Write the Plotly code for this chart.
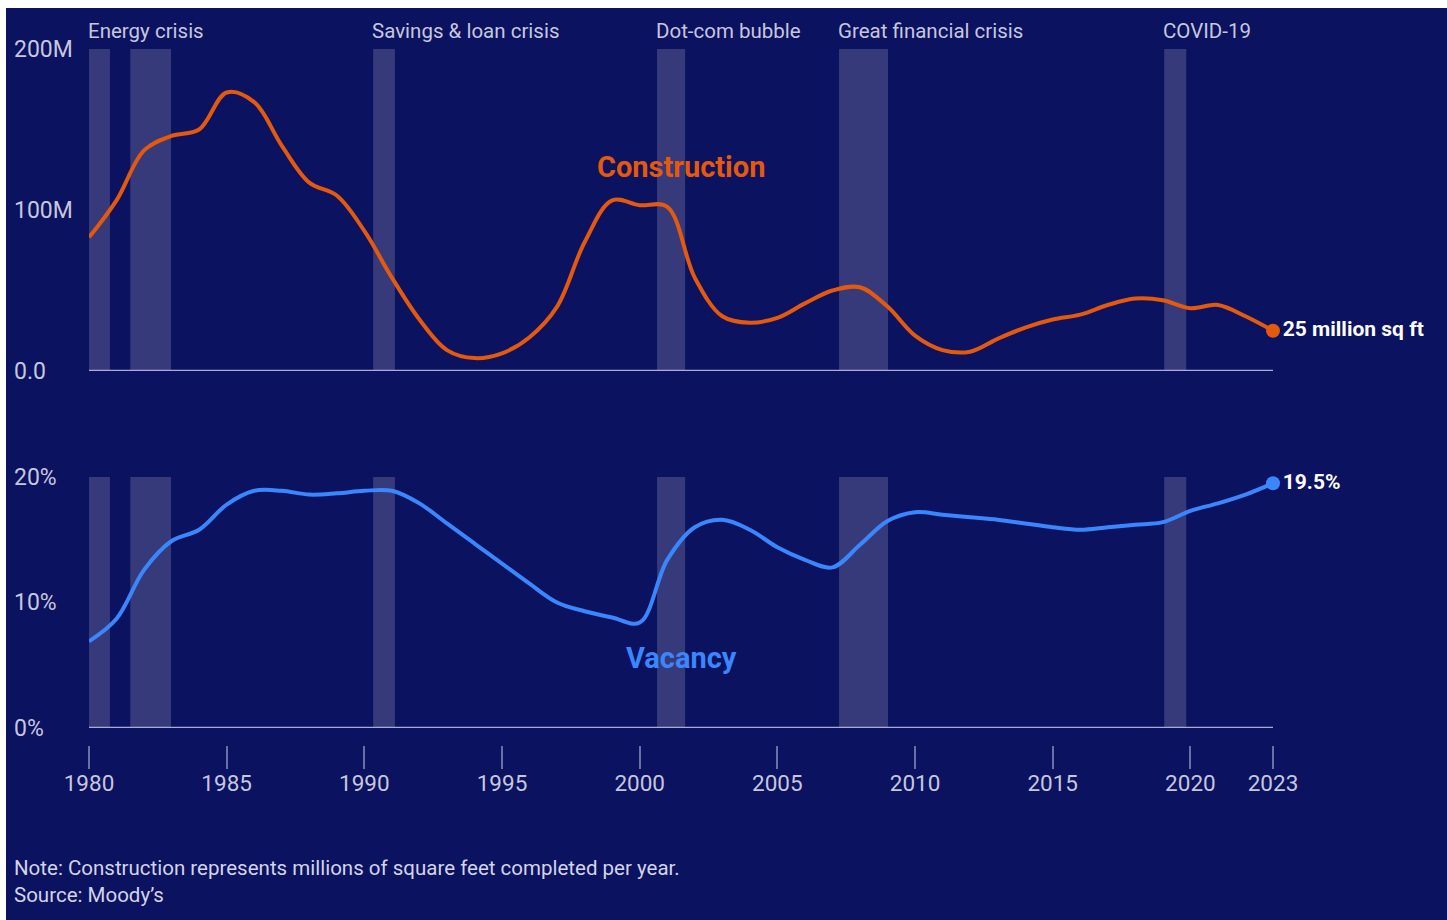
import plotly.graph_objects as go

# Office construction completions (millions of sq ft) and vacancy rate (%)
years = list(range(1980, 2024))
construction = [83, 106, 137, 146, 150, 173, 167, 140, 117, 109,
                87, 58, 32, 13, 8, 11, 21, 40, 80, 106,
                103, 102, 58, 34, 30, 33, 42, 50, 52, 40,
                22, 13, 12, 20, 27, 32, 35, 41, 45, 44,
                39, 41, 34, 25]
vacancy = [6.9, 8.7, 12.6, 14.9, 15.8, 17.8, 18.9, 18.9, 18.6, 18.7,
           18.9, 18.9, 17.9, 16.3, 14.7, 13.1, 11.5, 10.0, 9.3, 8.8,
           8.4, 13.4, 16.0, 16.6, 15.8, 14.4, 13.4, 12.8, 14.6, 16.5,
           17.2, 17.0, 16.8, 16.6, 16.3, 16.0, 15.8, 16.0, 16.2, 16.4,
           17.3, 17.9, 18.6, 19.5]

# Recession periods (start, end) and their labels
recessions = [(1980.0, 1980.76), (1981.5, 1982.98), (1990.32, 1991.11),
              (2000.63, 2001.65), (2007.24, 2009.02), (2019.05, 2019.85)]
recession_labels = [("Energy crisis", 1980.0), ("Savings & loan crisis", 1990.32),
                    ("Dot-com bubble", 2000.63), ("Great financial crisis", 2007.24),
                    ("COVID-19", 2019.05)]

x_ticks = [1980, 1985, 1990, 1995, 2000, 2005, 2010, 2015, 2020, 2023]
top_ticks = [0, 100, 200]
top_tick_text = ["0.0", "100M", "200M"]
bottom_ticks = [0, 10, 20]
bottom_tick_text = ["0%", "10%", "20%"]

W, H = 1447, 920
NAVY = "#0b125f"
ORANGE = "#e3590d"
BLUE = "#3a86ff"
BAND = "#373a7a"
AXIS_LINE = "#a9abd6"
TEXT = "#c5c7df"
FONT = "Roboto"


def frac_y(px):
    return (H - px) / H


# Pixel layout of both panels (value 0 and top value positions)
top_zero_px, top_px_per_unit, top_max = 371, 1.61, 205
bot_zero_px, bot_px_per_unit, bot_max = 728, 12.55, 21
top_domain = [frac_y(top_zero_px), frac_y(top_zero_px - top_max * top_px_per_unit)]
bot_domain = [frac_y(bot_zero_px), frac_y(bot_zero_px - bot_max * bot_px_per_unit)]

fig = go.Figure()

fig.add_trace(go.Scatter(x=years, y=construction, mode="lines",
                         line=dict(color=ORANGE, width=4, shape="spline", smoothing=1.0),
                         xaxis="x", yaxis="y", hoverinfo="skip", showlegend=False))
fig.add_trace(go.Scatter(x=years, y=vacancy, mode="lines",
                         line=dict(color=BLUE, width=4, shape="spline", smoothing=1.0),
                         xaxis="x", yaxis="y2", hoverinfo="skip", showlegend=False))

# End-point markers with value labels
fig.add_trace(go.Scatter(x=[years[-1]], y=[construction[-1]], mode="markers+text",
                         marker=dict(color=ORANGE, size=14),
                         text=[f"<b>{construction[-1]} million sq ft</b>"],
                         textposition="middle right",
                         textfont=dict(family=FONT, size=21, color="white"),
                         cliponaxis=False, xaxis="x", yaxis="y",
                         hoverinfo="skip", showlegend=False))
fig.add_trace(go.Scatter(x=[years[-1]], y=[vacancy[-1]], mode="markers+text",
                         marker=dict(color=BLUE, size=14),
                         text=[f"<b>{vacancy[-1]}%</b>"],
                         textposition="middle right",
                         textfont=dict(family=FONT, size=21, color="white"),
                         cliponaxis=False, xaxis="x", yaxis="y2",
                         hoverinfo="skip", showlegend=False))

shapes = [
    # panel background with thin white frame at top/left
    dict(type="rect", xref="paper", yref="paper", x0=6 / W, x1=1, y0=0, y1=frac_y(8),
         fillcolor=NAVY, line=dict(width=0), layer="below"),
]
for x0, x1 in recessions:
    shapes.append(dict(type="rect", xref="x", yref="y", x0=x0, x1=x1, y0=0, y1=200,
                       fillcolor=BAND, line=dict(width=0), layer="below"))
    shapes.append(dict(type="rect", xref="x", yref="y2", x0=x0, x1=x1, y0=0, y1=20,
                       fillcolor=BAND, line=dict(width=0), layer="below"))
for yref in ("y", "y2"):
    shapes.append(dict(type="line", xref="x", yref=yref, x0=1980, x1=2023, y0=0, y1=0,
                       line=dict(color=AXIS_LINE, width=2.5), layer="below"))

annotations = []
for v, t in zip(top_ticks, top_tick_text):
    annotations.append(dict(x=15 / W, xref="paper", y=v, yref="y", text=t,
                            xanchor="left", yanchor="middle", showarrow=False, xshift=-3,
                            font=dict(family=FONT, size=23, color=TEXT)))
for v, t in zip(bottom_ticks, bottom_tick_text):
    annotations.append(dict(x=15 / W, xref="paper", y=v, yref="y2", text=t,
                            xanchor="left", yanchor="middle", showarrow=False, xshift=-3,
                            font=dict(family=FONT, size=23, color=TEXT)))
for label, start in recession_labels:
    annotations.append(dict(x=start, xref="x", y=frac_y(31), yref="paper", text=label,
                            xanchor="left", yanchor="middle", showarrow=False, xshift=-3,
                            font=dict(family=FONT, size=20.5, color=TEXT)))

annotations.append(dict(x=2001.5, xref="x", y=127, yref="y", text="<b>Construction</b>",
                        showarrow=False, font=dict(family=FONT, size=29, color=ORANGE)))
annotations.append(dict(x=2001.5, xref="x", y=5.6, yref="y2", text="<b>Vacancy</b>",
                        showarrow=False, font=dict(family=FONT, size=29, color=BLUE)))

annotations.append(dict(x=15 / W, xref="paper", y=frac_y(868), yref="paper",
                        text="Note: Construction represents millions of square feet completed per year.",
                        xanchor="left", yanchor="middle", showarrow=False, xshift=-3,
                        font=dict(family=FONT, size=20.5, color="#d2d4ea")))
annotations.append(dict(x=15 / W, xref="paper", y=frac_y(895), yref="paper",
                        text="Source: Moody\u2019s",
                        xanchor="left", yanchor="middle", showarrow=False, xshift=-3,
                        font=dict(family=FONT, size=20.5, color="#d2d4ea")))

fig.update_layout(
    template="none",
    width=W, height=H,
    margin=dict(l=0, r=0, t=0, b=0, pad=0, autoexpand=False),
    paper_bgcolor="white",
    plot_bgcolor="rgba(0,0,0,0)",
    font=dict(family=FONT, color=TEXT),
    showlegend=False,
    xaxis=dict(domain=[89 / W, 1273 / W], range=[1980, 2023], anchor="free",
               position=frac_y(745), showgrid=False, zeroline=False, showline=False,
               automargin=False,
               ticks="outside", ticklen=23, tickwidth=2, tickcolor="#6b6fa8",
               ticklabelstandoff=-5,
               tickvals=x_ticks, ticktext=[str(v) for v in x_ticks],
               tickfont=dict(family=FONT, size=22.5, color=TEXT)),
    yaxis=dict(domain=top_domain, range=[0, top_max], anchor="x", showgrid=False,
               automargin=False,
               zeroline=False, showline=False, showticklabels=False, ticks=""),
    yaxis2=dict(domain=bot_domain, range=[0, bot_max], anchor="x", showgrid=False,
                automargin=False,
                zeroline=False, showline=False, showticklabels=False, ticks=""),
    shapes=shapes,
    annotations=annotations,
)

fig.write_html("out.html")
